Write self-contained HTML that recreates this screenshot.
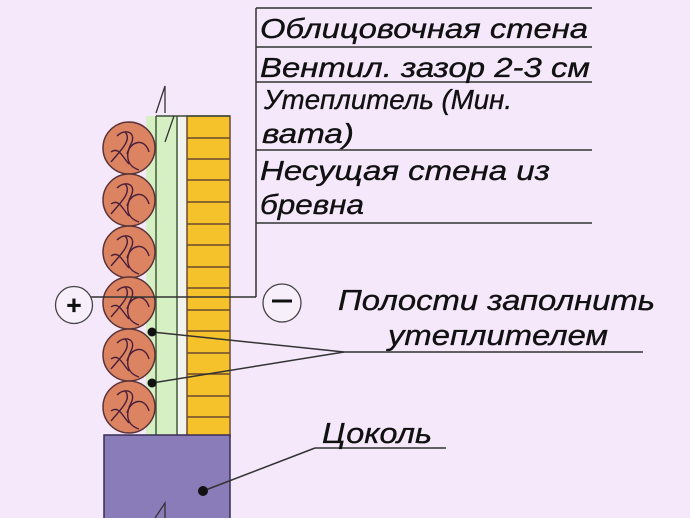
<!DOCTYPE html>
<html><head><meta charset="utf-8"><style>
html,body{margin:0;padding:0;background:#f5e8fb;}
svg{display:block}
text{font-family:"Liberation Sans",sans-serif;font-style:italic;fill:#111;stroke:#111;stroke-width:0.35;}
</style></head><body>
<svg width="690" height="518" viewBox="0 0 690 518">
<rect width="690" height="518" fill="#f5e8fb"/>
<rect x="146" y="116" width="31" height="320" fill="#d6f0c4"/>
<rect x="177" y="116" width="10" height="320" fill="#f3f3ee"/>
<line x1="156" y1="116" x2="156" y2="436" stroke="#3f5a3a" stroke-width="1.5"/>
<line x1="177" y1="116" x2="177" y2="436" stroke="#3f5a3a" stroke-width="1.5"/>
<rect x="187" y="116" width="43" height="320" fill="#f5c22c" stroke="#6a4a30" stroke-width="1.5"/>
<g stroke="#6a4a30" stroke-width="1.5">
<line x1="187" y1="138" x2="230" y2="138"/><line x1="187" y1="159" x2="230" y2="159"/>
<line x1="187" y1="180" x2="230" y2="180"/><line x1="187" y1="202" x2="230" y2="202"/>
<line x1="187" y1="224" x2="230" y2="224"/><line x1="187" y1="245" x2="230" y2="245"/>
<line x1="187" y1="267" x2="230" y2="267"/><line x1="187" y1="288" x2="230" y2="288"/>
<line x1="187" y1="310" x2="230" y2="310"/><line x1="187" y1="331" x2="230" y2="331"/>
<line x1="187" y1="353" x2="230" y2="353"/><line x1="187" y1="374" x2="230" y2="374"/>
<line x1="187" y1="396" x2="230" y2="396"/><line x1="187" y1="417" x2="230" y2="417"/>
</g>
<line x1="156" y1="116" x2="230" y2="116" stroke="#3f4a3a" stroke-width="1.5"/>
<polyline points="156,113 165,86 165,113" fill="none" stroke="#333" stroke-width="1.3"/>
<line x1="174" y1="116" x2="165" y2="142" stroke="#333" stroke-width="1.3"/>
<defs>
<g id="log">
<circle r="26" fill="#dc8462" stroke="#5a3338" stroke-width="1.5"/>
<path d="M-12,-12 C-4,-20 8,-16 2,-4 C-4,8 -2,18 10,22" fill="none" stroke="#4a1f3a" stroke-width="1.4"/>
<path d="M-4,-16 C4,-8 -10,4 -18,14" fill="none" stroke="#4a1f3a" stroke-width="1.4"/>
<path d="M-2,6 C2,-8 16,-10 20,4" fill="none" stroke="#4a1f3a" stroke-width="1.4"/>
<path d="M-18,4 C-10,-2 -6,10 0,16" fill="none" stroke="#4a1f3a" stroke-width="1.4"/>
</g>
</defs>
<use href="#log" x="129" y="148"/>
<use href="#log" x="129" y="200"/>
<use href="#log" x="129" y="252"/>
<use href="#log" x="129" y="303"/>
<use href="#log" x="129" y="355"/>
<use href="#log" x="129" y="407"/>
<rect x="104" y="435" width="126" height="90" fill="#8a7cb8" stroke="#3a2d55" stroke-width="1.5"/>
<polyline points="155,518 165,503 165,518" fill="none" stroke="#333" stroke-width="1.3"/>
<g stroke="#333" stroke-width="1.5">
<line x1="256" y1="8" x2="256" y2="297"/>
<line x1="256" y1="8" x2="592" y2="8"/>
<line x1="256" y1="47" x2="592" y2="47"/>
<line x1="256" y1="82" x2="592" y2="82"/>
<line x1="256" y1="150" x2="592" y2="150"/>
<line x1="256" y1="223" x2="592" y2="223"/>
<line x1="89" y1="297" x2="256" y2="297"/>
</g>
<text x="260" y="38" font-size="28" textLength="328" lengthAdjust="spacingAndGlyphs">Облицовочная стена</text>
<text x="260" y="77" font-size="28" textLength="330" lengthAdjust="spacingAndGlyphs">Вентил. зазор 2-3 см</text>
<text x="264" y="109" font-size="28" textLength="248" lengthAdjust="spacingAndGlyphs">Утеплитель (Мин.</text>
<text x="262" y="143" font-size="28" textLength="92" lengthAdjust="spacingAndGlyphs">вата)</text>
<text x="260" y="180" font-size="28" textLength="290" lengthAdjust="spacingAndGlyphs">Несущая стена из</text>
<text x="260" y="214" font-size="28" textLength="104" lengthAdjust="spacingAndGlyphs">бревна</text>
<circle cx="74" cy="305" r="18.5" fill="#f7f0fa" stroke="#444" stroke-width="1.3"/>
<text x="74" y="314" font-size="26" text-anchor="middle" style="font-style:normal;font-weight:bold">+</text>
<circle cx="282" cy="303" r="19" fill="#f7f0fa" stroke="#444" stroke-width="1.3"/>
<line x1="272" y1="301" x2="292" y2="301" stroke="#111" stroke-width="3"/>
<text x="338" y="310" font-size="29" textLength="317" lengthAdjust="spacingAndGlyphs">Полости заполнить</text>
<text x="388" y="345" font-size="29" textLength="220" lengthAdjust="spacingAndGlyphs">утеплителем</text>
<g stroke="#333" stroke-width="1.5">
<line x1="344" y1="352" x2="643" y2="352"/>
<line x1="344" y1="352" x2="152" y2="332"/>
<line x1="344" y1="352" x2="152" y2="383"/>
<line x1="315" y1="448" x2="446" y2="448"/>
<line x1="315" y1="448" x2="203" y2="491"/>
</g>
<circle cx="152" cy="332" r="4.5" fill="#111"/>
<circle cx="152" cy="383" r="4.5" fill="#111"/>
<circle cx="203" cy="491" r="5" fill="#111"/>
<text x="322" y="443" font-size="29" textLength="110" lengthAdjust="spacingAndGlyphs">Цоколь</text>
</svg>
</body></html>
